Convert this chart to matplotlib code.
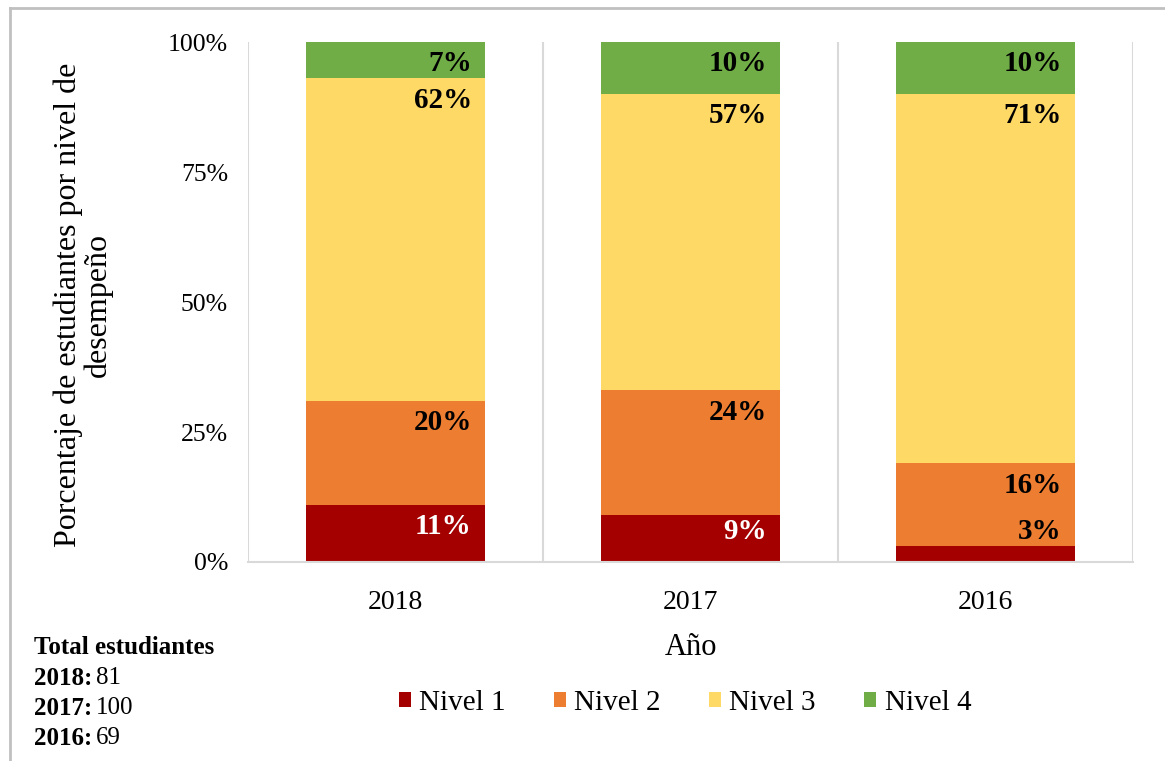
import matplotlib.pyplot as plt
import numpy as np

years = ["2018", "2017", "2016"]
niveles = ["Nivel 1", "Nivel 2", "Nivel 3", "Nivel 4"]
nivel1 = [11, 9, 3]
nivel2 = [20, 24, 16]
nivel3 = [62, 57, 71]
nivel4 = [7, 10, 10]
totales = [81, 100, 69]

colors = ["#a50000", "#ed7d31", "#ffd966", "#70ad47"]
label_colors = ["white", "black", "black", "black"]

plt.rcParams['font.family'] = ['Liberation Serif', 'DejaVu Serif']

fig = plt.figure(figsize=(11.65, 7.61), dpi=100)
ax = fig.add_axes([0.2129, 0.2615, 0.7597, 0.6833])

x = np.arange(len(years))
width = 0.607
series = [nivel1, nivel2, nivel3, nivel4]
bottom = np.zeros(len(years))
for i, vals in enumerate(series):
    vals = np.array(vals, dtype=float)
    ax.bar(x, vals, width, bottom=bottom, color=colors[i], label=niveles[i], zorder=2)
    for j in range(len(years)):
        top = bottom[j] + vals[j]
        yc = max(top - 4.2, bottom[j] + 5.8) if i == 0 else top - 4.2
        ax.text(x[j] + width / 2 - 0.045, yc, f"{int(vals[j])}%", ha='right', va='center',
                fontsize=21, fontweight='bold', color=label_colors[i] if vals[j] > 5 else 'black',
                zorder=3)
    bottom += vals

ax.set_xlim(-0.5, len(years) - 0.5)
ax.set_ylim(0, 100)
ax.set_yticks([0, 25, 50, 75, 100])
ax.set_yticklabels(["0%", "25%", "50%", "75%", "100%"], fontsize=18.5)
ax.set_xticks(x)
ax.set_xticklabels(years, fontsize=20)
ax.tick_params(length=0)
ax.tick_params(axis='x', pad=20)
ax.tick_params(axis='y', pad=14.5)
for b in np.arange(-0.5, len(years), 1.0):
    ax.axvline(b, color='#d9d9d9', lw=1.5, zorder=1)
for s in ['top', 'right', 'left']:
    ax.spines[s].set_visible(False)
ax.spines['bottom'].set_color('#d9d9d9')
ax.spines['bottom'].set_linewidth(1.5)

ax.set_xlabel("Año", fontsize=22, labelpad=13)
fig.text(0.0715, 0.599, "Porcentaje de estudiantes por nivel de\ndesempeño", rotation=90,
         ha='center', va='center', fontsize=23, multialignment='center', linespacing=1.0)

leg = fig.legend(loc='center', bbox_to_anchor=(0.588, 0.076), ncol=4, frameon=False,
                 fontsize=21, handlelength=0.42, handleheight=0.42, handletextpad=0.28,
                 columnspacing=1.65)

fig.text(0.029, 0.1485, "Total estudiantes", fontsize=18, fontweight='bold', va='center')
ys = [0.109, 0.0696, 0.0302]
fig.canvas.draw()
renderer = fig.canvas.get_renderer()
for yy, yr, t in zip(ys, years, totales):
    lab = fig.text(0.029, yy, yr + ":", fontsize=18, fontweight='bold', va='center')
    ext = lab.get_window_extent(renderer)
    fig.text((ext.x1 + 4) / fig.bbox.width, yy, str(t), fontsize=18, va='center')

fig.add_artist(plt.Line2D([10 / 1165, 10 / 1165], [0, 1 - 8 / 761], transform=fig.transFigure,
                          color='#c0c0c0', lw=2))
fig.add_artist(plt.Line2D([10 / 1165, 1], [1 - 8 / 761, 1 - 8 / 761], transform=fig.transFigure,
                          color='#c0c0c0', lw=2))

fig.savefig("out.png", dpi=100)
